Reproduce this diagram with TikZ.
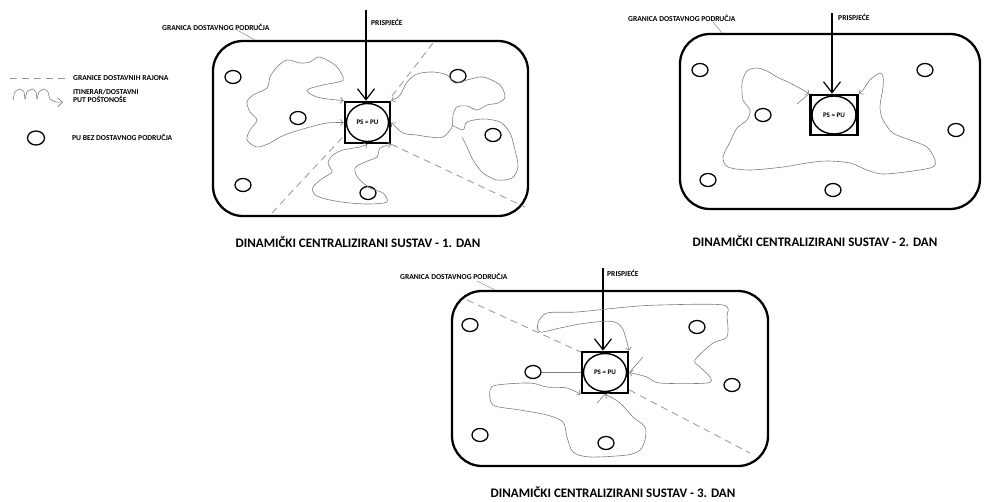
\documentclass[tikz,border=0pt]{standalone}
\usepackage{fontspec}
\setmainfont{Carlito}
\usetikzlibrary{arrows.meta,shapes.geometric,positioning}

\definecolor{routeGray}{RGB}{125,125,125}
\definecolor{rajonGray}{RGB}{150,150,150}

\begin{document}
\begin{tikzpicture}[x=1pt, y=-1pt,
        zone/.style={rectangle, draw=black, line width=2.3pt, rounded corners=30pt, minimum width=313pt, minimum height=175pt},
        postBox/.style={rectangle, draw=black, line width=2.6pt, minimum width=45pt, minimum height=41pt, inner sep=0pt},
        office/.style={ellipse, draw=black, line width=1.4pt, minimum width=42pt, minimum height=38pt, inner sep=0pt, font=\fontsize{7}{8}\selectfont\bfseries},
        pu/.style={ellipse, draw=black, line width=1.3pt, minimum width=16pt, minimum height=13pt, inner sep=0pt},
        route/.style={draw=routeGray, line width=0.6pt},
        intoPost/.style={{Straight Barb[length=3pt,width=6pt]}-{Straight Barb[length=3pt,width=6pt]}},
        rajon/.style={draw=rajonGray, line width=0.8pt, dash pattern=on 7pt off 5pt},
        leader/.style={draw=rajonGray, line width=0.6pt},
        arrival/.style={draw=black, line width=1.2pt, -{Straight Barb[length=11pt,width=17pt]}},
        tag/.style={font=\fontsize{7.6}{8.6}\selectfont\bfseries, inner sep=0pt},
        caption/.style={font=\fontsize{13}{15}\selectfont\bfseries, inner sep=0pt}
    ]
        \useasboundingbox (0,0) rectangle (988,501);

        \draw[rajon] (10,78) -- (68,78);
        \node[tag, anchor=west] (legRajon) at (73,78) {GRANICE DOSTAVNIH RAJONA};
        \draw[route, -{Straight Barb[length=5pt,width=9pt]}] plot[smooth, tension=0.4] coordinates {(13,100) (15,92) (20,89) (24,92) (25,99) (27,92) (32,89) (36,92) (37,99) (39,92) (44,89) (48,92) (50,99) (56,102) (63,102)};
        \node[tag, anchor=west, align=left] (legRoute) at (73,96) {ITINERAR/DOSTAVNI\\PUT POŠTONOŠE};
        \node[pu, minimum width=17pt, minimum height=14pt] (legPu) at (36,138) {};
        \node[tag, anchor=west] (legPuText) at (72,137) {PU BEZ DOSTAVNOG PODRUČJA};

        \node[zone, minimum width=315pt] (zone1) at (370.5,128.5) {};
        \node[postBox] (box1) at (367.5,122.5) {};
        \node[office] (ps1) at (box1) {PS = PU};
        \coordinate (in1) at (366,10);
        \draw[arrival] (in1) -- (in1 |- box1.north);
        \node[tag, anchor=west] (arr1) at (371,22) {PRISPJEĆE};
        \node[tag, anchor=west] (lim1) at (162,27) {GRANICA DOSTAVNOG PODRUČJA};
        \draw[leader] (237,30) -- (255,40);
        \foreach \x/\y [count=\i] in {233/77, 298/118, 458/76, 493/135, 243/185, 368/193}
            \node[pu] (pu1-\i) at (\x,\y) {};
        \draw[rajon] (272,213) -- (box1.west |- 0,136);
        \draw[rajon] (392,96) -- (433,43);
        \draw[rajon] (box1.south east) -- (525,207);
        \draw[route, intoPost] plot[smooth, tension=0.5] coordinates {(box1.north west) (317,97) (307,90) (323,85) (343,80) (337,67) (327,60) (318,57) (310,62) (300,63) (287,60) (277,67) (270,77) (267,88) (253,95) (247,102) (250,112) (257,120) (250,130) (247,140) (257,147) (270,143) (280,137) (293,132) (310,127) (327,123) (box1.west)};
        \draw[route, intoPost] plot[smooth, tension=0.5] coordinates {(box1.south) (360,147) (343,150) (333,155) (328,163) (332,172) (323,178) (313,187) (315,195) (330,200) (350,203) (370,204) (387,202) (383,193) (370,188) (358,178) (355,168) (365,162) (377,157) (380,148) (box1.south east)};
        \draw[route, intoPost] plot[smooth, tension=0.5] coordinates {(box1.north east) (400,95) (407,82) (417,74) (433,72) (447,75) (455,83) (467,80) (483,77) (500,85) (505,97) (498,103) (487,105) (477,110) (467,106) (457,107) (453,115) (452,127) (443,137) (430,137) (417,135) (403,133) (box1.east)};
        \draw[route] plot[smooth, tension=0.5] coordinates {(452,125) (463,130) (467,122) (483,119) (500,122) (510,133) (515,150) (518,167) (512,178) (497,180) (483,173) (473,160) (467,147) (462,137)};
        \node[caption] (day1) at (358,242) {DINAMIČKI CENTRALIZIRANI SUSTAV - 1. DAN};

        \node[zone, minimum width=300pt] (zone2) at (830,121.5) {};
        \node[postBox, minimum width=47pt, minimum height=40pt] (box2) at (834,115) {};
        \node[office, minimum width=44pt] (ps2) at (box2) {PS = PU};
        \coordinate (in2) at (832,13);
        \draw[arrival] (in2) -- (in2 |- box2.north);
        \node[tag, anchor=west] (arr2) at (838,17) {PRISPJEĆE};
        \node[tag, anchor=west] (lim2) at (628,18) {GRANICA DOSTAVNOG PODRUČJA};
        \draw[leader] (713,22) -- (722,33);
        \foreach \x/\y [count=\i] in {700/70, 763/115, 925/70, 956/130, 708/180, 833/190}
            \node[pu] (pu2-\i) at (\x,\y) {};
        \draw[route, intoPost] plot[smooth, tension=0.5] coordinates {(box2.north west) (803,90) (790,83) (777,77) (767,71) (757,68) (747,71) (742,83) (743,100) (750,110) (747,120) (737,128) (730,142) (723,157) (728,167) (750,170) (783,167) (807,163) (827,161) (850,163) (867,170) (883,174) (913,171) (933,167) (935,160) (927,147) (910,140) (893,133) (883,120) (880,107) (883,87) (883,77) (880,73) (870,80) (863,90) (box2.north east)};
        \draw[route] (797,104) -- (box2.north west);
        \node[caption] (day2) at (815,241) {DINAMIČKI CENTRALIZIRANI SUSTAV - 2. DAN};

        \node[zone, minimum width=316pt] (zone3) at (610,378.5) {};
        \node[postBox, minimum width=46pt] (box3) at (605,372.5) {};
        \node[office, minimum width=43pt] (ps3) at (box3) {PS = PU};
        \coordinate (in3) at (603,268);
        \draw[arrival] (in3) -- (in3 |- box3.north);
        \node[tag, anchor=west] (arr3) at (607,273) {PRISPJEĆE};
        \node[tag, anchor=west] (lim3) at (400,276) {GRANICA DOSTAVNOG PODRUČJA};
        \draw[leader] (477,281) -- (495,290);
        \foreach \x/\y [count=\i] in {470/325, 533/372, 697/327, 732/385, 480/435, 606/443}
            \node[pu] (pu3-\i) at (\x,\y) {};
        \draw[rajon] (467,300) -- (box3.west |- 0,352);
        \draw[rajon] (box3.east |- 0,390) -- (750,453);
        \draw[route] (pu3-2) ++(8,0) -- (box3.west |- pu3-2);
        \draw[route, intoPost] plot[smooth, tension=0.5] coordinates {(box3.north east) (617,323) (587,323) (560,328) (540,332) (538,323) (547,313) (577,312) (627,307) (660,305) (723,305) (727,317) (727,337) (713,343) (695,360) (700,367) (710,377) (707,383) (660,383) (647,377) (box3.east)};
        \draw[route, intoPost] plot[smooth, tension=0.5] coordinates {(box3.south) (620,403) (633,417) (645,427) (645,440) (640,450) (627,455) (590,457) (573,452) (567,437) (563,422) (547,415) (520,410) (493,405) (490,390) (497,385) (530,383) (547,387) (567,388) (box3.south west)};
        \draw[route] (597,403) -- (box3.south);
        \draw[route] (643,357) -- (box3.east);
        \node[caption] (day3) at (613,492) {DINAMIČKI CENTRALIZIRANI SUSTAV - 3. DAN};
\end{tikzpicture}
\end{document}
